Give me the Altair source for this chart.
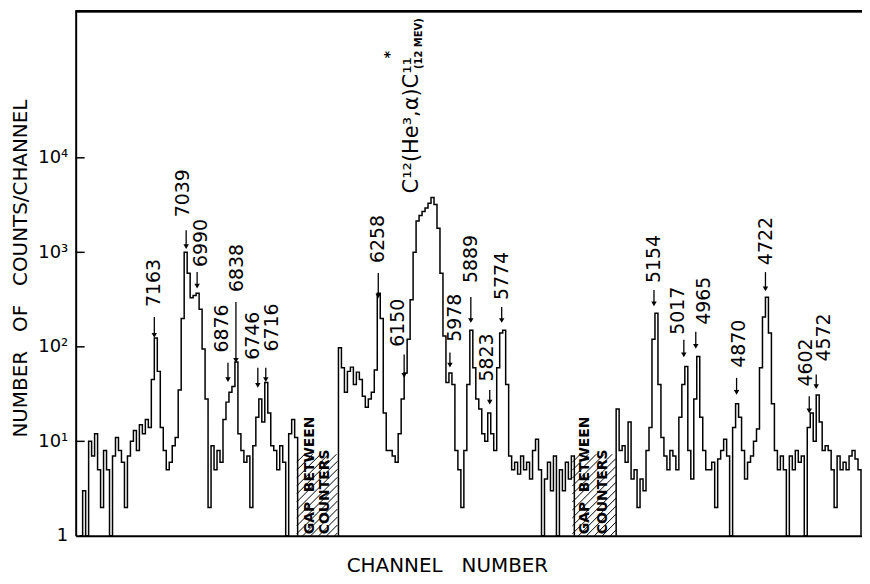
import altair as alt
import pandas as pd
import numpy as np

# ---------------- data ----------------
BIN = 3
# segment 1 (first counter), channel start and counts per 3-channel bin
seg1_start = 4
seg1_counts = [1, 3, 1, 10, 7, 12, 5, 2, 8, 5, 1, 7, 11, 8, 6, 2, 7, 10, 13, 8,
               15, 12, 17, 14, 45, 124, 55, 14, 8, 5, 6, 9, 11, 35, 200, 1000, 600, 330, 350, 370,
               250, 95, 28, 2, 9, 5, 8, 6, 17, 26, 33, 38, 69, 12, 8, 6, 7, 2, 9, 18,
               28, 16, 42, 20, 9, 8, 5, 9, 6, 1, 12, 17, 11]
# segment 2 (second counter)
seg2_start = 264
seg2_counts = [98, 60, 33, 55, 61, 40, 54, 45, 30, 23, 28, 33, 57, 370, 200, 20, 8, 8, 7, 6,
               12, 28, 53, 120, 315, 1000, 2150, 2450, 2700, 2950, 3300, 3800, 3200, 1800, 600, 130, 42, 53, 40, 8,
               5, 2, 8, 40, 150, 60, 28, 22, 12, 10, 20, 12, 8, 60, 140, 150, 40, 7, 5, 6,
               4.5, 7, 5, 6, 4, 8, 10.5, 5, 1, 4, 6, 3, 7, 1, 5, 3, 6, 4, 7]
# segment 3 (third counter)
seg3_start = 543
seg3_counts = [22, 8, 9, 6, 16, 4, 5, 2, 4, 3, 8, 14, 120, 227, 40, 11, 7, 5, 8, 7,
               5, 18, 40, 62, 8, 4, 28, 79, 18, 8, 5, 5, 6, 2, 6.5, 8, 10.5, 7, 1, 14,
               25, 18, 8, 4, 6, 7, 10, 13.5, 60, 207, 335, 140, 25, 8, 5, 7, 5, 1, 7, 5,
               8, 6, 7, 1, 14, 20, 10, 31, 16, 8, 9, 8, 5, 2, 7, 5, 6, 5, 7, 8, 6.5, 5]

# peak labels (excitation energies), label position and arrow
peak_labels = ["7163", "7039", "6990", "6876", "6838", "6746", "6716", "6258", "6150", "5978",
               "5889", "5823", "5774", "5154", "5017", "4965", "4870", "4722", "4602", "4572"]
label_chan = [79, 108, 126, 147, 162, 178, 197, 304, 324, 381,
              397, 413, 428, 581, 605, 631, 666, 694, 734, 752]
label_base = [264, 2345, 698, 87, 380, 73, 89, 769, 100, 113,
              473, 43, 313, 473, 134, 171, 60, 732, 38, 70]
arrow_chan = [79, 111, 122, 153, 161, 183, 191, 304, 330, 376,
              397, 416, 428, 581, 611, 623, 664, 693, 737, 744]
arrow_top = [207, 1711, 618, 68, 299, 60, 60, 603, 83, 87,
             337, 35, 264, 399, 119, 144, 47, 618, 30, 51]
arrow_bot = [132, 1150, 440, 45, 72, 39, 45, 345, 50, 64,
             190, 26, 190, 285, 82, 101, 33, 410, 21, 38]

# reaction label
react_text = ["C¹²(He³,α)C¹¹", "*", "(12 MEV)"]
react_chan = [338, 316, 345]
react_base = [4200, 113000, 87000]
react_size = [21, 14, 10]
react_weight = ["normal", "bold", "bold"]

# gaps between counters
gap_lo = [222, 499]
gap_hi = [263, 543]
HATCH_TOP = 7.3
gap_text = ["GAP BETWEEN", "COUNTERS", "GAP BETWEEN", "COUNTERS"]
gap_text_chan = [235, 251, 512, 530]

y_tick_values = [1, 10, 100, 1000, 10000]
y_tick_labels = ["1", "10¹", "10²", "10³", "10⁴"]

# ---------------- build tables ----------------
W, H = 790, 527
YMAX = 10 ** 5.55
FONT = "DejaVu Sans"
NB = "\u00a0"

rows = []
for seg, (start, counts) in enumerate([(seg1_start, seg1_counts),
                                        (seg2_start, seg2_counts),
                                        (seg3_start, seg3_counts)]):
    k = 0
    rows.append(dict(seg=seg, k=k, channel=start, count=1)); k += 1
    for i, c in enumerate(counts):
        rows.append(dict(seg=seg, k=k, channel=start + BIN * i, count=c)); k += 1
    rows.append(dict(seg=seg, k=k, channel=start + BIN * len(counts), count=1))
spec = pd.DataFrame(rows)

peaks = pd.DataFrame(dict(label=peak_labels, lx=label_chan, ly=label_base,
                          ax=arrow_chan, at=arrow_top, ab=arrow_bot))
react = pd.DataFrame(dict(t=react_text, x=react_chan, y=react_base,
                          s=react_size, w=react_weight))
gaps_txt = pd.DataFrame(dict(t=[s.replace(" ", NB * 2) for s in gap_text],
                             x=gap_text_chan, y=[1.04] * 4))

dec = H / np.log10(YMAX)
hatch = []
for g0, g1 in zip(gap_lo, gap_hi):
    hpx = dec * np.log10(HATCH_TOP)
    c = g0 - hpx
    while c < g1:
        s, e = max(c, g0), min(c + hpx, g1)
        if e > s:
            hatch.append(dict(hx=s, hy=10 ** ((s - c) / dec),
                              hx2=e, hy2=10 ** ((e - c) / dec)))
        c += 8
hatch = pd.DataFrame(hatch)
ticks = pd.DataFrame(dict(tv=y_tick_values[1:]))

xs = alt.Scale(domain=[0, W], nice=False, zero=False)
ys = alt.Scale(type="log", domain=[1, YMAX], nice=False)

label_expr = " : ".join(
    [f"datum.value == {v} ? '{l}'" for v, l in zip(y_tick_values[:-1], y_tick_labels[:-1])]
) + f" : '{y_tick_labels[-1]}'"

x_axis = alt.Axis(title="CHANNEL" + NB * 3 + "NUMBER", labels=False, ticks=False, grid=False,
                  domainColor="black", domainWidth=2,
                  titleFont=FONT, titleFontSize=20, titleFontWeight="normal",
                  titleColor="black", titleX=373, titleY=30,
                  titleAlign="center", titleBaseline="middle")
y_axis = alt.Axis(title="NUMBER" + NB * 3 + "OF" + NB * 3 + "COUNTS/CHANNEL", values=y_tick_values,
                  labelExpr=label_expr, ticks=False, grid=False,
                  domainColor="black", domainWidth=2, labelPadding=8,
                  labelFont=FONT, labelFontSize=18, labelColor="black",
                  titleFont=FONT, titleFontSize=20, titleFontWeight="normal",
                  titleColor="black", titleAngle=270, titleX=-55, titleY=258,
                  titleAlign="center", titleBaseline="middle")


def X(f):
    return alt.X(f, scale=xs, axis=x_axis)


def Y(f):
    return alt.Y(f, scale=ys, axis=y_axis)


line = alt.Chart(spec).mark_line(interpolate="step-after", color="black", strokeWidth=1.5).encode(
    x=X("channel:Q"), y=Y("count:Q"), detail="seg:N", order="k:Q")

hatch_l = alt.Chart(hatch).mark_rule(color="black", strokeWidth=1).encode(
    x=X("hx:Q"), y=Y("hy:Q"), x2="hx2:Q", y2="hy2:Q")

gap_l = alt.Chart(gaps_txt).mark_text(angle=270, align="left", baseline="middle",
                                      font=FONT, fontSize=14, fontWeight="bold",
                                      color="black").encode(
    x=X("x:Q"), y=Y("y:Q"), text="t:N")

arrows = alt.Chart(peaks).mark_rule(color="black", strokeWidth=1.3).encode(
    x=X("ax:Q"), y=Y("at:Q"), y2="ab:Q")

heads = alt.Chart(peaks).mark_point(shape="triangle-down", filled=True, size=30,
                                    color="black", opacity=1).encode(
    x=X("ax:Q"), y=Y("ab:Q"))

labels = alt.Chart(peaks).mark_text(angle=270, align="left", baseline="middle",
                                    font=FONT, fontSize=19, color="black").encode(
    x=X("lx:Q"), y=Y("ly:Q"), text="label:N")

react_layers = []
for i in range(len(react_text)):
    react_layers.append(
        alt.Chart(react.iloc[[i]]).mark_text(angle=270, align="left", baseline="middle",
                                             font=FONT, fontSize=react_size[i],
                                             fontWeight=react_weight[i], color="black").encode(
            x=X("x:Q"), y=Y("y:Q"), text="t:N"))

inticks = alt.Chart(ticks).mark_rule(color="black", strokeWidth=1.5).encode(
    y=Y("tv:Q"), x=alt.value(0), x2=alt.value(9))

topline = alt.Chart(ticks).mark_rule(color="black", strokeWidth=2).encode(
    y=alt.value(0), x=alt.value(0), x2=alt.value(W))

chart = alt.layer(line, hatch_l, gap_l, arrows, heads, labels, *react_layers, inticks, topline).properties(
    width=W, height=H,
    autosize=alt.AutoSizeParams(type="none"),
    padding={"left": 68, "top": 2, "right": 0, "bottom": 40},
    background="white",
).configure_view(stroke=None)

chart.save("out.html", embed_options={"renderer": "svg", "actions": False})
